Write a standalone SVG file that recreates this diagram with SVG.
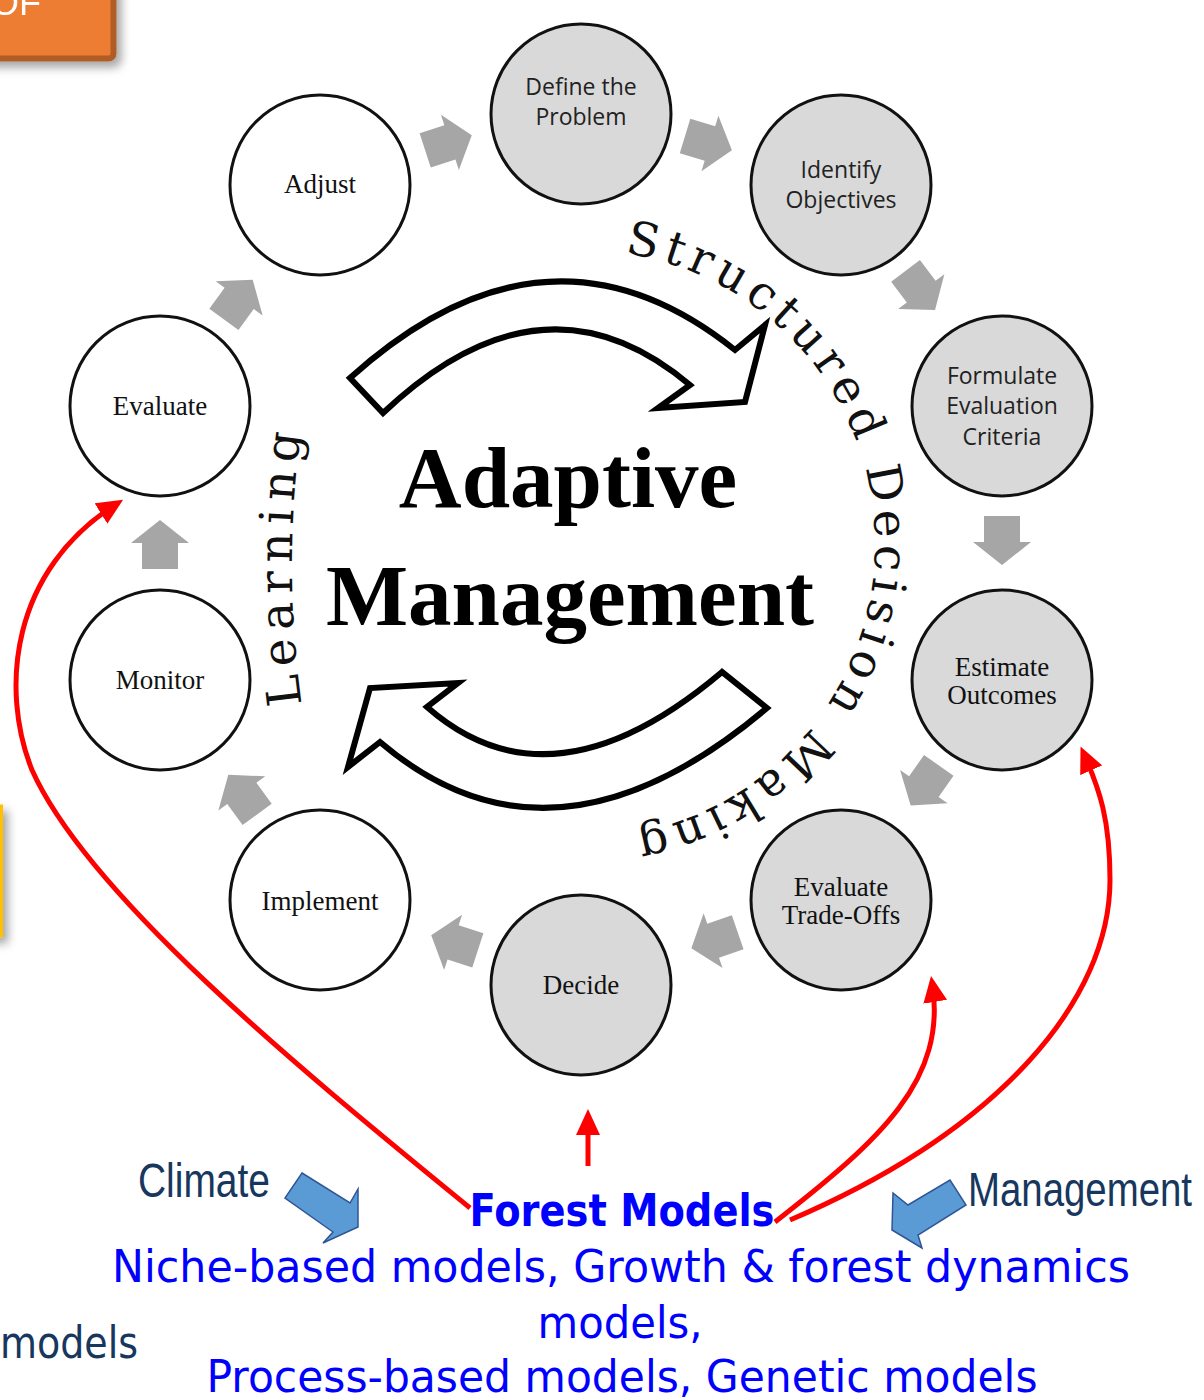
<svg xmlns="http://www.w3.org/2000/svg" xmlns:xlink="http://www.w3.org/1999/xlink" width="1204" height="1400" viewBox="0 0 1204 1400">
<defs>
<style>
.gc{fill:#d9d9d9;stroke:#111;stroke-width:3}
.wc{fill:#fff;stroke:#111;stroke-width:3}
.sans{font-family:"Open Sans","DejaVu Sans",sans-serif;font-size:23px;fill:#222;text-anchor:middle}
.ser{font-family:"Liberation Serif","Times New Roman",serif;font-size:27px;fill:#111;text-anchor:middle}
.curv{font-family:"DejaVu Serif","Liberation Serif",serif;font-size:47px;fill:#111}
.big{font-family:"Liberation Serif","Times New Roman",serif;font-size:87px;font-weight:bold;fill:#000;text-anchor:middle}
.red{fill:none;stroke:#ff0000;stroke-width:5}
.bigarrow{fill:#fff;stroke:#000;stroke-width:6;stroke-linejoin:miter}
.blue{fill:#5b9bd5;stroke:#2f5597;stroke-width:1.5}
.navy{font-family:"Liberation Sans",Arial,sans-serif;font-size:48px;fill:#17375e}
.bl{font-family:"DejaVu Sans",Verdana,sans-serif;font-size:44px;fill:#0000ff;text-anchor:middle}
</style>
<path id="ga" d="M0,-25 L29,-2 L18,-2 L18,24 L-18,24 L-18,-2 L-29,-2 Z" fill="#a6a6a6"/>
<marker id="rh" markerUnits="userSpaceOnUse" markerWidth="26" markerHeight="24" viewBox="0 0 26 24" refX="20" refY="12" orient="auto">
<path d="M0,0 L26,12 L0,24 Z" fill="#ff0000"/>
</marker>
<filter id="sh" x="-20%" y="-20%" width="150%" height="150%">
<feDropShadow dx="5" dy="6" stdDeviation="5" flood-color="#000" flood-opacity="0.35"/>
</filter>
<path id="arcS" d="M581,250 A294,294 0 0 1 581,838"/>
<path id="arcL" d="M301.8,705 A1000,1000 0 0 1 301.8,425"/>
</defs>
<rect width="1204" height="1400" fill="#fff"/>

<g id="orange-box" filter="url(#sh)">
<rect x="-20" y="-30" width="133.5" height="88.5" rx="5" fill="#ed7d31" stroke="#b05c26" stroke-width="6"/>
<text x="-9" y="15" font-family="Liberation Sans,Arial,sans-serif" font-size="36" fill="#fff">OF</text>
</g>
<g id="yellow-box" filter="url(#sh)">
<rect x="-60" y="806" width="61.5" height="130" fill="#fff" stroke="#ffc000" stroke-width="3"/>
</g>

<g id="center-arrows">
<path class="bigarrow" d="M350,378 Q547.5,200 735,350 L765,325 L745,402 L658,408 L690,385 Q543.5,261 383,413 Z"/>
<path class="bigarrow" d="M348,767 L370,688 L458,683 L427,707 Q551.5,816.5 722,672 L767,708 Q552.5,889 380,742 Z"/>
</g>
<g id="title">
<text class="big" x="568" y="507">Adaptive</text>
<text class="big" x="570" y="625">Management</text>
</g>
<g id="ring-labels">
<text class="curv" letter-spacing="6"><textPath href="#arcS" startOffset="49.7%" text-anchor="middle">Structured Decision Making</textPath></text>
<text class="curv" letter-spacing="8"><textPath href="#arcL" startOffset="50%" text-anchor="middle">Learning</textPath></text>
</g>

<g id="n-define"><circle class="gc" cx="581" cy="114" r="90"/><text class="sans" x="581" y="95">Define the</text><text class="sans" x="581" y="125">Problem</text></g>
<g id="n-identify"><circle class="gc" cx="841" cy="185" r="90"/><text class="sans" x="841" y="178">Identify</text><text class="sans" x="841" y="208">Objectives</text></g>
<g id="n-formulate"><circle class="gc" cx="1002" cy="406" r="90"/><text class="sans" x="1002" y="384">Formulate</text><text class="sans" x="1002" y="414">Evaluation</text><text class="sans" x="1002" y="445">Criteria</text></g>
<g id="n-estimate"><circle class="gc" cx="1002" cy="680" r="90"/><text class="ser" x="1002" y="676">Estimate</text><text class="ser" x="1002" y="704">Outcomes</text></g>
<g id="n-tradeoffs"><circle class="gc" cx="841" cy="900" r="90"/><text class="ser" x="841" y="896">Evaluate</text><text class="ser" x="841" y="924">Trade-Offs</text></g>
<g id="n-decide"><circle class="gc" cx="581" cy="985" r="90"/><text class="ser" x="581" y="994">Decide</text></g>
<g id="n-implement"><circle class="wc" cx="320" cy="900" r="90"/><text class="ser" x="320" y="910">Implement</text></g>
<g id="n-monitor"><circle class="wc" cx="160" cy="680" r="90"/><text class="ser" x="160" y="689">Monitor</text></g>
<g id="n-evaluate"><circle class="wc" cx="160" cy="406" r="90"/><text class="ser" x="160" y="415">Evaluate</text></g>
<g id="n-adjust"><circle class="wc" cx="320" cy="185" r="90"/><text class="ser" x="320" y="193">Adjust</text></g>

<g id="connectors">
<use href="#ga" transform="translate(448,143) rotate(72)"/>
<use href="#ga" transform="translate(708,143) rotate(107)"/>
<use href="#ga" transform="translate(920,290) rotate(143)"/>
<use href="#ga" transform="translate(1002,540) rotate(180)"/>
<use href="#ga" transform="translate(925,785) rotate(215)"/>
<use href="#ga" transform="translate(715,940) rotate(251)"/>
<use href="#ga" transform="translate(455,943) rotate(288)"/>
<use href="#ga" transform="translate(243,795) rotate(-36)"/>
<use href="#ga" transform="translate(160,545) rotate(0)"/>
<use href="#ga" transform="translate(238,300) rotate(36)"/>

<path class="red" marker-end="url(#rh)" d="M470,1208 C320,1085 90,900 32,770 C0,690 10,570 118,503"/>
<path class="red" marker-end="url(#rh)" d="M775,1222 C880,1140 948,1080 932,982"/>
<path class="red" marker-end="url(#rh)" d="M790,1220 C1000,1130 1110,1000 1110,880 C1110,820 1100,790 1083,752"/>
<path class="red" stroke-width="8" marker-end="url(#rh)" d="M588,1166 L588,1115"/>

<polygon class="blue" points="302,1173 350,1203 358,1189 358,1227 323,1243 333,1232 285,1198"/>
<polygon class="blue" points="892,1230 893,1193 908,1205 950,1180 966,1205 918,1235 922,1248"/>
</g>

<g id="bottom-text">
<text class="navy" x="138" y="1197" textLength="132" lengthAdjust="spacingAndGlyphs">Climate</text>
<text class="navy" x="968" y="1206" textLength="224" lengthAdjust="spacingAndGlyphs">Management</text>
<text x="0" y="1358" font-family="DejaVu Sans,Verdana,sans-serif" font-size="44" fill="#17375e" textLength="138" lengthAdjust="spacingAndGlyphs">models</text>
<text class="bl" x="622" y="1226" font-weight="bold" textLength="305" lengthAdjust="spacingAndGlyphs">Forest Models</text>
<text class="bl" x="621" y="1282" textLength="1018" lengthAdjust="spacingAndGlyphs">Niche-based models, Growth &amp; forest dynamics</text>
<text class="bl" x="620" y="1338" textLength="165" lengthAdjust="spacingAndGlyphs">models,</text>
<text class="bl" x="622" y="1392" textLength="831" lengthAdjust="spacingAndGlyphs">Process-based models, Genetic models</text>
</g>
</svg>
